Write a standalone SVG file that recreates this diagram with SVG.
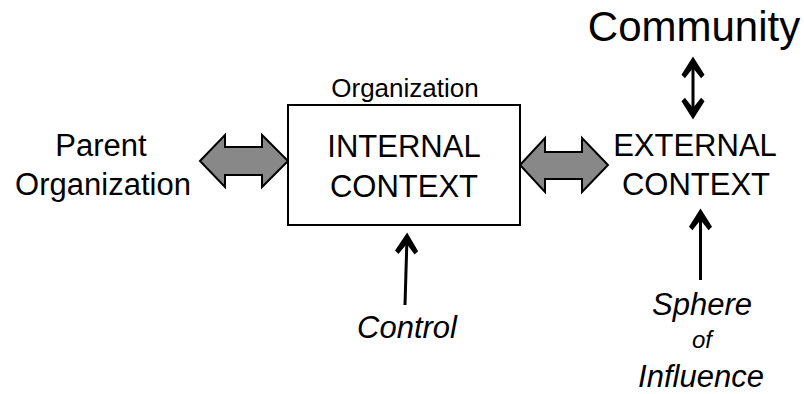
<svg xmlns="http://www.w3.org/2000/svg" width="804" height="394" viewBox="0 0 804 394">
<style>
text{font-family:"Liberation Sans",Arial,sans-serif;fill:#000;text-anchor:middle}
.big{font-size:31px}
.it{font-style:italic}
.conn{stroke:#000;stroke-width:3;fill:none}
.block{fill:#888888;stroke:#000;stroke-width:2;stroke-linejoin:miter}
.box{fill:#fff;stroke:#000;stroke-width:2}
</style>
<defs>
<marker id="ah" markerUnits="userSpaceOnUse" markerWidth="30" markerHeight="30" viewBox="-20 -12 26 24" refX="0" refY="0" orient="auto-start-reverse" overflow="visible">
<path d="M4,0 L-12,-10 L-15,-7 L-6,0 L-15,7 L-12,10 Z" fill="#000"/>
</marker>
</defs>
<g id="connectors">
<polygon class="block" points="200,161 225,135 225,147 262,147 262,135 288,161 262,187 262,175 225,175 225,187"/>
<polygon class="block" points="520,165 545,138 545,152 582,152 582,138 608,165 582,192 582,179 545,179 545,192"/>
<line class="conn" x1="693" y1="61" x2="693" y2="115" marker-start="url(#ah)" marker-end="url(#ah)"/>
<line class="conn" x1="405" y1="305" x2="407" y2="237" marker-end="url(#ah)"/>
<line class="conn" x1="700.5" y1="280" x2="700.5" y2="213" marker-end="url(#ah)"/>
</g>
<g id="internal">
<rect class="box" x="288" y="105" width="232" height="120"/>
<text x="405" y="97" font-size="26">Organization</text>
<text class="big" x="404" y="157">INTERNAL</text>
<text class="big" x="404" y="197">CONTEXT</text>
</g>
<g id="parent">
<text class="big" x="101" y="156">Parent</text>
<text class="big" x="103" y="195">Organization</text>
</g>
<g id="external">
<text class="big" x="695" y="156">EXTERNAL</text>
<text class="big" x="696" y="195">CONTEXT</text>
</g>
<g id="community">
<text x="694" y="41" font-size="42">Community</text>
</g>
<g id="control">
<text class="big it" x="407" y="338">Control</text>
</g>
<g id="sphere">
<text class="big it" x="702" y="315">Sphere</text>
<text class="it" x="702" y="348" font-size="24">of</text>
<text class="big it" x="701" y="387">Influence</text>
</g>
</svg>
